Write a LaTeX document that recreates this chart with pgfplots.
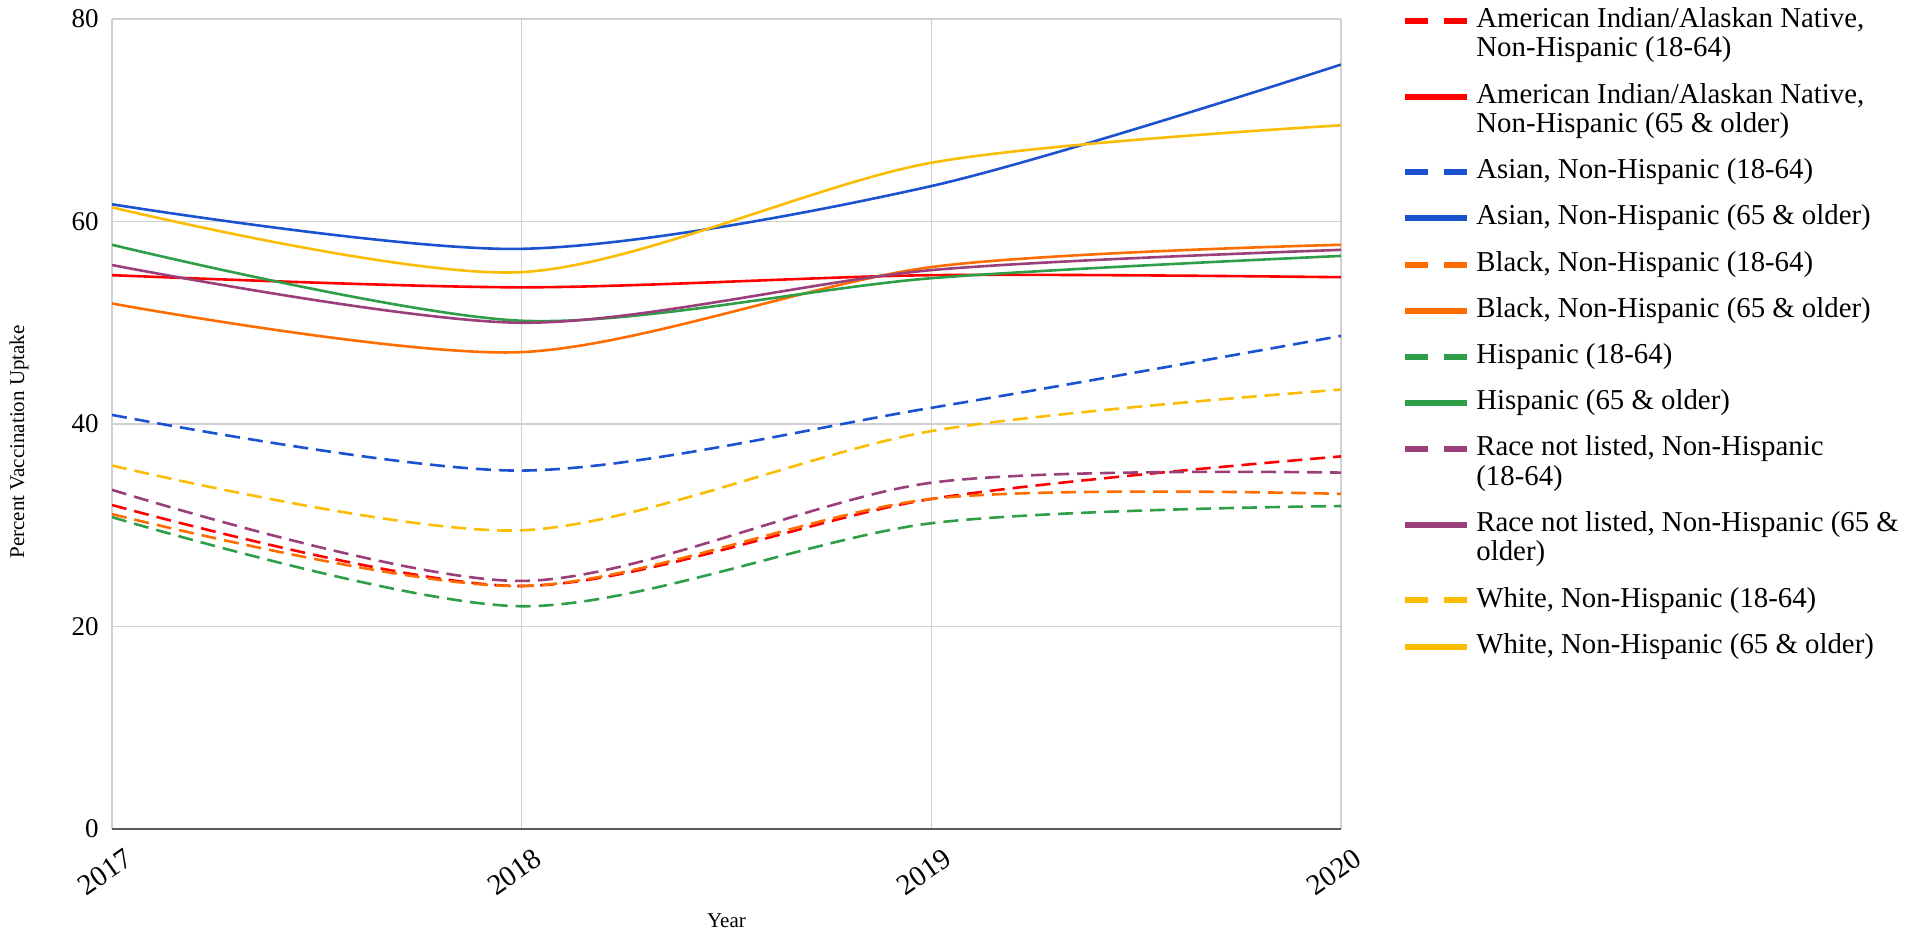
\documentclass[border=0pt]{standalone}
\usepackage{fontspec}
\setmainfont{Liberation Serif}
\usepackage{pgfplots}
\pgfplotsset{compat=1.18}
\definecolor{cred}{HTML}{FF0000}
\definecolor{cblue}{HTML}{1A52D0}
\definecolor{corange}{HTML}{FF6D01}
\definecolor{cgreen}{HTML}{2E9E48}
\definecolor{cpurple}{HTML}{9A3F7A}
\definecolor{cyellow}{HTML}{FBBC04}
\definecolor{gridc}{HTML}{D0D0D0}
\definecolor{basec}{HTML}{5A5A5A}
\pgfplotsset{
  dsh/.style={line width=1.3pt, dash pattern=on 7.5pt off 4pt,
    legend image code/.code={\draw[##1, line width=3pt, dash pattern=on 11.5pt off 8pt] (0pt,3.3pt) -- (31pt,3.3pt);}},
  sld/.style={line width=1.3pt, solid,
    legend image code/.code={\draw[##1, line width=3pt, solid] (0pt,3.3pt) -- (31pt,3.3pt);}},
  dshtwo/.style={line width=1.3pt, dash pattern=on 7.5pt off 4pt,
    legend image code/.code={\draw[##1, line width=3pt, dash pattern=on 11.5pt off 8pt] (0pt,18pt) -- (31pt,18pt);}},
  sldtwo/.style={line width=1.3pt, solid,
    legend image code/.code={\draw[##1, line width=3pt, solid] (0pt,18pt) -- (31pt,18pt);}},
}
\begin{document}
\begin{tikzpicture}
\useasboundingbox (0,0) rectangle (955.5pt,469pt);
\begin{axis}[
  at={(56pt,54.5pt)}, anchor=south west,
  scale only axis, width=614.5pt, height=405pt,
  xmin=2017, xmax=2020, ymin=0, ymax=80,
  xtick={2017,2018,2019,2020}, xticklabels={2017,2018,2019,2020},
  ytick={20,40,60,80},
  extra y ticks={0},
  extra y tick style={grid style={draw=basec, line width=1pt}},
  grid=major, grid style={draw=gridc, line width=0.7pt},
  axis line style={draw=none},
  major tick length=0pt,
  /pgf/number format/assume math mode=true,
  yticklabel style={font=\fontsize{13.5}{14}\selectfont, anchor=east, inner sep=0pt, xshift=-6.5pt},
  xticklabel style={font=\fontsize{14.5}{15}\selectfont, inner sep=0pt, xshift=5.5pt, yshift=-9pt, rotate=35, anchor=north east},
  xlabel={Year},
  ylabel={Percent Vaccination Uptake},
  every axis x label/.style={at={(axis description cs:0.5,-0.1222)}, anchor=base, font=\fontsize{10.5}{12}\selectfont},
  every axis y label/.style={at={(axis description cs:-0.0757,0.478)}, anchor=center, rotate=90, font=\fontsize{10.5}{12}\selectfont},
  smooth, tension=0.5,
  legend style={at={(1,1)}, anchor=north west, xshift=30.5pt, yshift=5.9pt,
    draw=none, fill=none, inner sep=0pt, row sep=11.6pt, column sep=3pt,
    font=\fontsize{14.4}{14.7}\selectfont,
    nodes={inner sep=0pt, anchor=base west, align=left}},
  legend cell align=left,
]
\addplot[cred, dshtwo] coordinates {(2017,32.0) (2018,24.0) (2019,32.6) (2020,36.8)};
\addlegendentry{American Indian/Alaskan Native,\\Non-Hispanic (18-64)}
\addplot[cred, sldtwo] coordinates {(2017,54.7) (2018,53.5) (2019,54.7) (2020,54.5)};
\addlegendentry{American Indian/Alaskan Native,\\Non-Hispanic (65 \& older)}
\addplot[cblue, dsh] coordinates {(2017,40.9) (2018,35.4) (2019,41.6) (2020,48.7)};
\addlegendentry{Asian, Non-Hispanic (18-64)}
\addplot[cblue, sld] coordinates {(2017,61.7) (2018,57.3) (2019,63.5) (2020,75.5)};
\addlegendentry{Asian, Non-Hispanic (65 \& older)}
\addplot[corange, dsh] coordinates {(2017,31.1) (2018,24.0) (2019,32.6) (2020,33.1)};
\addlegendentry{Black, Non-Hispanic (18-64)}
\addplot[corange, sld] coordinates {(2017,51.9) (2018,47.1) (2019,55.5) (2020,57.7)};
\addlegendentry{Black, Non-Hispanic (65 \& older)}
\addplot[cgreen, dsh] coordinates {(2017,30.8) (2018,22.0) (2019,30.2) (2020,31.9)};
\addlegendentry{Hispanic (18-64)}
\addplot[cgreen, sld] coordinates {(2017,57.7) (2018,50.2) (2019,54.4) (2020,56.6)};
\addlegendentry{Hispanic (65 \& older)}
\addplot[cpurple, dshtwo] coordinates {(2017,33.5) (2018,24.5) (2019,34.2) (2020,35.2)};
\addlegendentry{Race not listed, Non-Hispanic\\(18-64)}
\addplot[cpurple, sldtwo] coordinates {(2017,55.7) (2018,50.0) (2019,55.2) (2020,57.2)};
\addlegendentry{Race not listed, Non-Hispanic (65 \&\\older)}
\addplot[cyellow, dsh] coordinates {(2017,35.9) (2018,29.5) (2019,39.3) (2020,43.4)};
\addlegendentry{White, Non-Hispanic (18-64)}
\addplot[cyellow, sld] coordinates {(2017,61.4) (2018,55.0) (2019,65.8) (2020,69.5)};
\addlegendentry{White, Non-Hispanic (65 \& older)}
\end{axis}
\end{tikzpicture}
\end{document}
